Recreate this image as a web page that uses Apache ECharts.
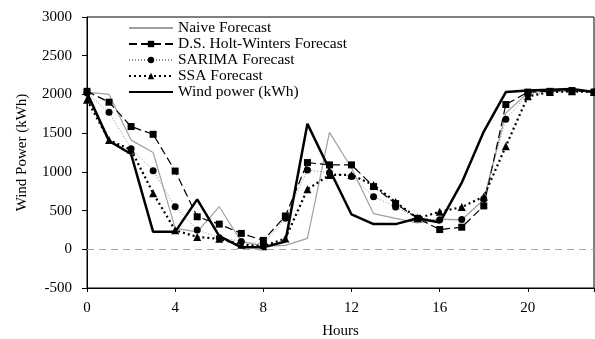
<!DOCTYPE html>
<html>
<head>
<meta charset="utf-8">
<script src="https://cdn.jsdelivr.net/npm/echarts@6/dist/echarts.min.js"></script>
<style>
  html, body { margin: 0; padding: 0; background: #fff; }
  #main { width: 595px; height: 339px; }
</style>
</head>
<body>
<div id="main"></div>
<script>
// hours 0..23
const hours = [0, 1, 2, 3, 4, 5, 6, 7, 8, 9, 10, 11, 12, 13, 14, 15, 16, 17, 18, 19, 20, 21, 22, 23]

const naive = [2030, 2000, 1410, 1250, 270, 225, 550, 100, 40, 50, 140, 1510, 1050, 460, 400, 340, 390, 380, 640, 1760, 2020, 2050, 2060, 2040]
const holtWinters = [2040, 1900, 1585, 1485, 1010, 420, 325, 205, 115, 430, 1120, 1090, 1090, 810, 590, 400, 255, 285, 560, 1870, 2030, 2040, 2050, 2030]
const sarima = [2020, 1770, 1300, 1015, 550, 250, 150, 100, 70, 400, 1025, 990, 940, 680, 545, 400, 380, 385, 650, 1680, 2000, 2030, 2040, 2030]
const ssa = [1930, 1410, 1285, 725, 245, 160, 135, 60, 40, 140, 775, 960, 960, 830, 610, 400, 485, 545, 680, 1330, 1975, 2030, 2040, 2030]
const windPower = [2020, 1400, 1230, 225, 225, 645, 170, 25, 25, 100, 1620, 1030, 450, 325, 325, 400, 345, 860, 1520, 2030, 2050, 2060, 2070, 2030]

const pairs = arr => hours.map((h, i) => [h, arr[i]])
const serif = 'Liberation Serif'
// legend entries without a marker
const noMark = { opacity: 0 }

let myChart = echarts.init(document.getElementById('main'))

myChart.setOption({
  animation: false,
  grid: {
    left: 87, right: 1, top: 17, bottom: 51,
    outerBoundsMode: 'none',
    show: true, borderColor: '#000', borderWidth: 1
  },
  legend: {
    orient: 'vertical',
    left: 128, top: 20, padding: 0,
    itemWidth: 44, itemHeight: 8, itemGap: 0,
    textStyle: { fontFamily: serif, fontSize: 15.5, color: '#000' },
    data: [
      { name: 'Naive Forecast', itemStyle: noMark },
      'D.S. Holt-Winters Forecast',
      'SARIMA Forecast',
      'SSA Forecast',
      { name: 'Wind power (kWh)', itemStyle: noMark }
    ]
  },
  xAxis: {
    type: 'value', min: 0, max: 23, interval: 4,
    name: 'Hours', nameLocation: 'middle', nameGap: 36,
    nameTextStyle: { fontFamily: serif, fontSize: 15, color: '#000' },
    axisLine: { onZero: false, lineStyle: { color: '#000' } },
    axisTick: { length: 4, lineStyle: { color: '#000' } },
    axisLabel: { fontFamily: serif, fontSize: 15, color: '#000', margin: 13,
      formatter: v => (v > 20 ? '' : String(v)) },
    splitLine: { show: false }
  },
  yAxis: {
    type: 'value', min: -500, max: 3000, interval: 500,
    name: 'Wind Power (kWh)', nameLocation: 'middle', nameGap: 57,
    nameTextStyle: { fontFamily: serif, fontSize: 15, color: '#000' },
    axisLine: { show: true, lineStyle: { color: '#000' } },
    axisTick: { show: true, length: 5, lineStyle: { color: '#000' } },
    axisLabel: { fontFamily: serif, fontSize: 15, color: '#000', margin: 15,
      formatter: v => String(v) },
    splitLine: { show: false }
  },
  series: [
    {
      name: 'Naive Forecast', type: 'line', data: pairs(naive),
      symbol: 'none',
      lineStyle: { color: '#a0a0a0', width: 1.2 },
      itemStyle: { color: '#a0a0a0' },
      markLine: {
        silent: true, symbol: 'none', label: { show: false },
        lineStyle: { color: '#a8a8a8', type: [7, 5], width: 1 },
        data: [{ yAxis: 0 }]
      }
    },
    {
      name: 'D.S. Holt-Winters Forecast', type: 'line', data: pairs(holtWinters),
      symbol: 'rect', symbolSize: 7,
      lineStyle: { color: '#000', width: 1.2, type: [8, 4] },
      itemStyle: { color: '#000' }
    },
    {
      name: 'SARIMA Forecast', type: 'line', data: pairs(sarima),
      symbol: 'circle', symbolSize: 7,
      lineStyle: { color: '#888', width: 1, type: [1, 2] },
      itemStyle: { color: '#000' }
    },
    {
      name: 'SSA Forecast', type: 'line', data: pairs(ssa),
      symbol: 'triangle', symbolSize: 8,
      lineStyle: { color: '#000', width: 2.2, type: [2, 3] },
      itemStyle: { color: '#000' }
    },
    {
      name: 'Wind power (kWh)', type: 'line', data: pairs(windPower),
      symbol: 'none',
      lineStyle: { color: '#000', width: 2.5 },
      itemStyle: { color: '#000' }
    }
  ]
})
</script>
</body>
</html>
